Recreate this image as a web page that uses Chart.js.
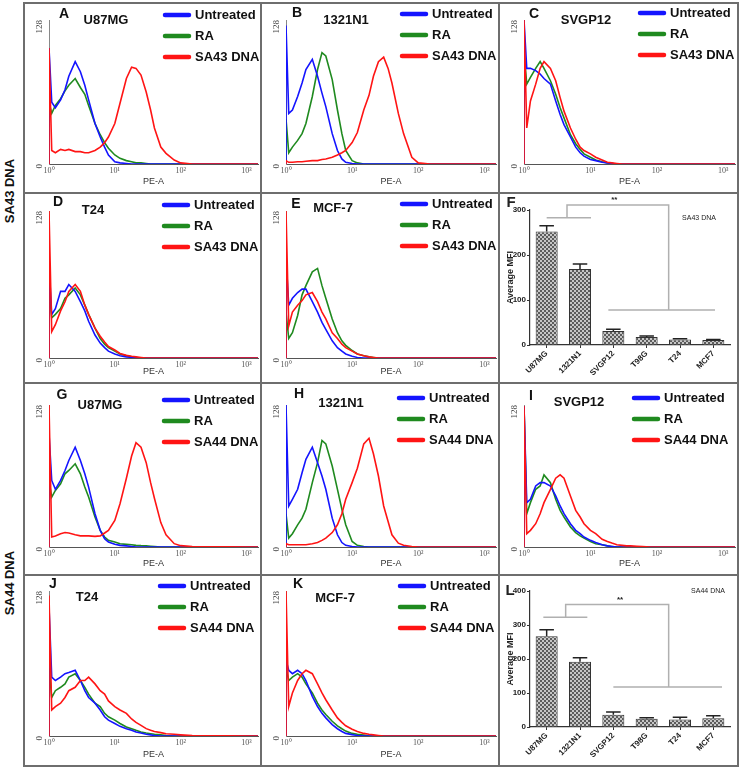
<!DOCTYPE html>
<html>
<head>
<meta charset="utf-8">
<script src="https://cdn.jsdelivr.net/npm/chart.js@4.4.1/dist/chart.umd.min.js"></script>
<style>
body{margin:0;background:#fff;width:740px;height:769px;position:relative;overflow:hidden;font-family:"Liberation Sans",Arial,sans-serif}
.cell{position:absolute}
.cell canvas{display:block}
.rule{position:absolute;background:#6e6e6e}
.side{position:absolute;width:100px;text-align:center;font-weight:bold;font-size:13px;line-height:16px;transform:rotate(-90deg);white-space:nowrap;color:#111}
</style>
</head>
<body>
<div class="side" style="left:-40px;top:183px">SA43 DNA</div>
<div class="side" style="left:-40px;top:575px">SA44 DNA</div>
<script>
// shared fluorescence positions (PE-A) for every histogram, first point is the baseline of the spike at 10^0
const X = [1, 1, 1.1, 1.25, 1.5, 1.75, 2, 2.5, 3, 3.5, 4, 5, 6, 7, 8, 10, 12, 15, 18, 21, 25, 30, 35, 40, 50, 60, 80, 100, 150, 1500];
const xTicks = [1, 10, 100, 1000];
const xTickLabels = ['10\u2070', '10\u00b9', '10\u00b2', '10\u00b3'];
const yTicks = [0, 128];
const names43 = ['Untreated', 'RA', 'SA43 DNA'];
const names44 = ['Untreated', 'RA', 'SA44 DNA'];

// SA43 DNA row
const aUntreated = [0,103,55,50,57,66,78,91,82,70,57,36,24,15,8,2,1,0.5,0,0,0,0,0,0,0,0,0,0,0,0];
const aRA        = [0,55,45,52,58,65,70,76,68,62,52,36,26,19,14,8,5,3,2,1,1,0.5,0,0,0,0,0,0,0,0];
const aSA43      = [0,103,12,10,13,12,13,11,11,10,10,12,15,19,24,36,54,76,86,85,79,64,48,32,15,9.5,3.5,1,0,0];
const bUntreated = [0,123,45,48,60,72,84,93,78,63,51,27,12,4.5,1.5,0.5,0,0,0,0,0,0,0,0,0,0,0,0,0,0];
const bRA        = [0,40,10,15,21,27,36,60,84,99,96,75,48,27,12,3,1,0,0,0,0,0,0,0,0,0,0,0,0,0];
const bSA43      = [0,3,1.5,1.5,2,2,2.5,3,3,4,4.5,6,8,10,12,19,28,48,61,78,91,95,85,72,45,27,6,1,0,0];
const cUntreated = [0,128,85,85,83,80,76,71,56,44,35,24,15,10,7,4,3,1.5,1,0.5,0,0,0,0,0,0,0,0,0,0];
const cRA        = [0,100,71,77,85,91,85,74,62,50,41,26,18,13,9,6,3.5,2,1,0.5,0,0,0,0,0,0,0,0,0,0];
const cSA43      = [0,128,32,56,71,85,91,85,74,59,47,32,22,15,12,9,6,3.5,1.5,1,0.5,0,0,0,0,0,0,0,0,0];
const dUntreated = [0,81,38,43,58,58,64,58,49,41,32,20,13,9,6,3.5,2,1,0.5,0,0,0,0,0,0,0,0,0,0,0];
const dRA        = [0,60,35,38,43,52,55,61,55,46,38,26,17,12,9,6,3.5,2,1,0.5,0,0,0,0,0,0,0,0,0,0];
const dSA43      = [0,128,23,29,41,49,58,64,58,46,38,26,19,14,10,7,4,2.3,1.5,1,0.5,0,0,0,0,0,0,0,0,0];
const eUntreated = [0,87,46,52,57,60,60,49,40,31,25,15,9,6,3.5,1.5,0.5,0,0,0,0,0,0,0,0,0,0,0,0,0];
const eRA        = [0,40,17,22,37,55,63,75,78,63,52,34,22,15,11,6.5,3.5,2,1,0.5,0,0,0,0,0,0,0,0,0,0];
const eSA43      = [0,128,28,40,46,50,55,57,49,40,34,22,17,12,9,6,3.5,2,1,0.5,0,0,0,0,0,0,0,0,0,0];

// SA44 DNA row
const gUntreated = [0,102,60,52,60,69,78,90,78,66,54,30,15,7.5,4.5,2.4,1.5,1,0.5,0,0,0,0,0,0,0,0,0,0,0];
const gRA        = [0,60,45,51,57,66,69,75,66,54,45,27,15,9,6,4.5,3,2.4,2,1.5,1.2,1,0.7,0.5,0,0,0,0,0,0];
const gSA44      = [0,128,9,10,12,13,12.6,11,10,10,10,9.6,10,12.6,15,24,39,62,82,94,90,76,58,44,22,11,3,1.2,0.5,0];
const hUntreated = [0,128,37,43,52,67,79,90,76,64,52,26,11,4,1.5,0.5,0,0,0,0,0,0,0,0,0,0,0,0,0,0];
const hRA        = [0,30,8,12,20,26,34,58,76,96,93,73,52,34,20,5,1.5,0.5,0,0,0,0,0,0,0,0,0,0,0,0];
const hSA44      = [0,3,2,2,2,2,2,3,4,6,8,13,20,30,43,58,71,93,98,84,64,37,23,11,3.5,1.5,0.5,0,0,0];
const iUntreated = [0,127,40,43,55,58,58,55,46,37,30,21,15,12,9,6,4,2,1,0.5,0,0,0,0,0,0,0,0,0,0];
const iRA        = [0,127,30,40,52,55,65,58,43,33,27,18,13,10,8,5,3,2,1,0.5,0,0,0,0,0,0,0,0,0,0];
const iSA44      = [0,127,12,15,21,30,40,52,62,65,62,46,33,27,21,15,12,7,5,3.5,2,1.5,1,1,0.7,0.5,0,0,0,0];
const jUntreated = [0,114,52,49,52,55,56,58,49,40,34,29,23,17,14,11,8.5,6.5,5,3.5,2.6,1.5,1,0.5,0,0,0,0,0,0];
const jRA        = [0,60,34,40,43,46,52,55,49,43,37,29,26,20,17,14,11,8,6.5,5,3.5,2.6,2,1.5,1,0.5,0,0,0,0];
const jSA44      = [0,124,23,26,29,34,40,43,49,49,52,46,40,37,31,26,23,20,15,12,9.4,6.5,5,4,3,2,1.5,1,0.3,0];
const kUntreated = [0,67,58,55,58,55,49,35,26,20,16,10,6.4,4,2.3,1.2,0.5,0,0,0,0,0,0,0,0,0,0,0,0,0];
const kRA        = [0,60,49,52,55,52,46,38,29,23,19,13,9,6.4,4.3,2.3,1.5,0.8,0,0,0,0,0,0,0,0,0,0,0,0];
const kSA44      = [0,128,26,38,49,55,58,55,46,38,32,23,16,12,9,6,4,2.3,1.5,1,0.5,0,0,0,0,0,0,0,0,0];

// average MFI bar panels
const cellLines = ['U87MG', '1321N1', 'SVGP12', 'T98G', 'T24', 'MCF7'];
const mfi43 = [252, 169, 31, 18, 12, 11];
const err43 = [13, 11, 4, 2, 2, 1];
const mfi44 = [267, 192, 36, 24, 22, 26];
const err44 = [19, 12, 8, 3, 7, 7];

const colsX = [24, 261, 499, 738];
const rowsY = [3, 193, 383, 575, 766];
const rowPlot = [[17, 161], [18, 165], [22, 164], [16, 161]]; // chart area top / bottom inside each row
const colors = ['#1414ff', '#1f8a1f', '#ff1414'];
const bold = '"Liberation Sans", Arial, sans-serif';

function makeCell(col, row) {
    const w = colsX[col + 1] - colsX[col], h = rowsY[row + 1] - rowsY[row];
    const div = document.createElement('div');
    div.className = 'cell';
    div.style.left = colsX[col] + 'px';
    div.style.top = rowsY[row] + 'px';
    const cv = document.createElement('canvas');
    cv.width = w; cv.height = h;
    div.appendChild(cv);
    document.body.appendChild(div);
    return {cv, w, h};
}

// letter, cell name and legend written on top of each histogram
function panelText(p) {
    return {
        id: 'panelText',
        afterDraw(chart) {
            const ctx = chart.ctx;
            ctx.save();
            ctx.fillStyle = '#111';
            ctx.textBaseline = 'middle';
            ctx.textAlign = 'center';
            ctx.font = 'bold 14px ' + bold;
            ctx.fillText(p.letter, p.lp[0], p.lp[1]);
            ctx.font = 'bold 13px ' + bold;
            ctx.fillText(p.title, p.tp[0], p.tp[1]);
            ctx.textAlign = 'left';
            chart.data.datasets.forEach((ds, i) => {
                const y = p.lg[1] + i * 21;
                ctx.strokeStyle = ds.borderColor;
                ctx.lineWidth = 4.5;
                ctx.lineCap = 'round';
                ctx.beginPath();
                ctx.moveTo(p.lg[0] + 2, y);
                ctx.lineTo(p.lg[0] + 26, y);
                ctx.stroke();
                ctx.fillText(ds.label, p.lg[0] + 32, y);
            });
            ctx.restore();
        }
    };
}

function histogram(p) {
    const {cv, w, h} = makeCell(p.col, p.row);
    const rp = rowPlot[p.row];
    new Chart(cv, {
        type: 'line',
        data: {
            datasets: p.curves.map((vals, i) => ({
                label: p.names[i],
                data: X.map((x, k) => ({x: x, y: vals[k]})),
                borderColor: colors[i],
                borderWidth: 1.6,
                pointRadius: 0,
                tension: 0,
                fill: false,
                order: [1, 2, 0][i]
            }))
        },
        options: {
            responsive: false,
            animation: false,
            layout: {padding: {left: 0, right: 3, top: rp[0], bottom: 0}},
            plugins: {legend: {display: false}, tooltip: {enabled: false}},
            scales: {
                x: {
                    type: 'logarithmic', min: 1, max: 1500,
                    afterBuildTicks: s => { s.ticks = xTicks.map(v => ({value: v})); },
                    afterFit: s => { s.height = h - rp[1]; s.paddingLeft = 0; s.paddingRight = 0; },
                    grid: {display: false, drawTicks: false},
                    border: {display: true, color: '#555', width: 1},
                    ticks: {
                        autoSkip: false, minRotation: 0, maxRotation: 0, padding: 2, color: '#555',
                        font: {family: '"Liberation Serif", serif', size: 8},
                        callback: (v, i) => xTickLabels[i]
                    },
                    title: {display: true, text: 'PE-A', color: '#333', font: {family: bold, size: 9}, padding: {top: 0, bottom: 6}}
                },
                y: {
                    min: 0, max: 128,
                    afterBuildTicks: s => { s.ticks = yTicks.map(v => ({value: v})); },
                    afterFit: s => { s.width = 25; s.paddingTop = 0; s.paddingBottom = 0; },
                    grid: {display: false, drawTicks: false},
                    border: {display: true, color: '#888', width: 1},
                    ticks: {minRotation: 90, maxRotation: 90, padding: 9, color: '#444', font: {family: '"Liberation Serif", serif', size: 9}}
                }
            }
        },
        plugins: [panelText(p)]
    });
}

function hatch() {
    const c = document.createElement('canvas');
    c.width = 4; c.height = 4;
    const g = c.getContext('2d');
    g.fillStyle = '#c6c6c6';
    g.fillRect(0, 0, 4, 4);
    g.fillStyle = '#5c5c5c';
    for (let i = 0; i < 4; i++) {
        g.fillRect(i, i, 1, 1);
        g.fillRect(3 - i, i, 1, 1);
    }
    return g.createPattern(c, 'repeat');
}

// error whiskers, significance brackets and small notes of the bar panels
function barExtras(p) {
    return {
        id: 'barExtras',
        afterDraw(chart) {
            const ctx = chart.ctx, xs = chart.scales.x, ys = chart.scales.y;
            const px = v => xs.getPixelForValue(v), py = v => ys.getPixelForValue(v);
            const vals = chart.data.datasets[0].data;
            ctx.save();
            ctx.strokeStyle = '#222';
            ctx.lineWidth = 1.5;
            chart.getDatasetMeta(0).data.forEach((bar, i) => {
                const yTop = py(vals[i] + p.errs[i]);
                const half = bar.width * 0.33;
                ctx.beginPath();
                ctx.moveTo(bar.x, bar.y);
                ctx.lineTo(bar.x, yTop);
                ctx.moveTo(bar.x - half, yTop);
                ctx.lineTo(bar.x + half, yTop);
                ctx.stroke();
            });
            const s = p.sig;
            ctx.strokeStyle = '#b0b0b0';
            ctx.lineWidth = 1.5;
            ctx.beginPath();
            ctx.moveTo(px(s.g1[0]), py(s.low)); ctx.lineTo(px(s.g1[1]), py(s.low));
            ctx.moveTo(px(s.mid1), py(s.low)); ctx.lineTo(px(s.mid1), py(s.top));
            ctx.lineTo(px(s.mid2), py(s.top)); ctx.lineTo(px(s.mid2), py(s.base));
            ctx.moveTo(px(s.g2[0]), py(s.base)); ctx.lineTo(px(s.g2[1]), py(s.base));
            ctx.stroke();
            ctx.fillStyle = '#222';
            ctx.textAlign = 'center';
            ctx.textBaseline = 'middle';
            ctx.font = 'bold 8px ' + bold;
            ctx.fillText('**', px(s.star[0]), py(s.star[1]));
            ctx.font = '7px "Liberation Sans Narrow", ' + bold;
            ctx.fillText(p.note, p.np[0], p.np[1]);
            ctx.font = 'bold 15px ' + bold;
            ctx.fillText(p.letter, p.lp[0], p.lp[1]);
            ctx.restore();
        }
    };
}

function barPanel(p) {
    const {cv, w, h} = makeCell(p.col, p.row);
    new Chart(cv, {
        type: 'bar',
        data: {
            labels: cellLines,
            datasets: [{data: p.means, backgroundColor: hatch(), borderColor: '#333', borderWidth: 1,
                barPercentage: 0.66, categoryPercentage: 1}]
        },
        options: {
            responsive: false,
            animation: false,
            layout: {padding: {left: 0, right: 8, top: p.top, bottom: 0}},
            plugins: {legend: {display: false}, tooltip: {enabled: false}},
            scales: {
                x: {
                    afterFit: s => { s.height = h - 152; s.paddingLeft = 0; s.paddingRight = 0; },
                    grid: {display: true, drawOnChartArea: false, offset: false, tickLength: 3, color: '#333'},
                    border: {display: true, color: '#333', width: 1.2},
                    ticks: {minRotation: 45, maxRotation: 45, autoSkip: false, padding: 1, color: '#222',
                        font: {family: bold, size: 8, weight: 'bold'}}
                },
                y: {
                    min: 0, max: p.yMax,
                    afterFit: s => { s.width = 31; s.paddingTop = 0; s.paddingBottom = 0; },
                    grid: {display: true, drawOnChartArea: false, tickLength: 3, color: '#333'},
                    border: {display: true, color: '#333', width: 1.2},
                    ticks: {stepSize: 100, padding: 1, color: '#222', font: {family: bold, size: 8, weight: 'bold'}},
                    title: {display: true, text: 'Average MFI', color: '#222', font: {family: bold, size: 9, weight: 'bold'}, padding: {top: 6, bottom: 0}}
                }
            }
        },
        plugins: [barExtras(p)]
    });
}

const panels = [
    {col: 0, row: 0, letter: 'A', title: 'U87MG',  lp: [40, 11], tp: [82, 17], lg: [139, 12], names: names43, curves: [aUntreated, aRA, aSA43]},
    {col: 1, row: 0, letter: 'B', title: '1321N1', lp: [36, 10], tp: [85, 17], lg: [139, 11], names: names43, curves: [bUntreated, bRA, bSA43]},
    {col: 2, row: 0, letter: 'C', title: 'SVGP12', lp: [35, 11], tp: [87, 17], lg: [139, 10], names: names43, curves: [cUntreated, cRA, cSA43]},
    {col: 0, row: 1, letter: 'D', title: 'T24',    lp: [34, 9],  tp: [69, 17], lg: [138, 12], names: names43, curves: [dUntreated, dRA, dSA43]},
    {col: 1, row: 1, letter: 'E', title: 'MCF-7',  lp: [35, 11], tp: [72, 15], lg: [139, 11], names: names43, curves: [eUntreated, eRA, eSA43]},
    {col: 0, row: 2, letter: 'G', title: 'U87MG',  lp: [38, 12], tp: [76, 22], lg: [138, 17], names: names44, curves: [gUntreated, gRA, gSA44]},
    {col: 1, row: 2, letter: 'H', title: '1321N1', lp: [38, 11], tp: [80, 20], lg: [136, 15], names: names44, curves: [hUntreated, hRA, hSA44]},
    {col: 2, row: 2, letter: 'I', title: 'SVGP12', lp: [32, 13], tp: [80, 19], lg: [133, 15], names: names44, curves: [iUntreated, iRA, iSA44]},
    {col: 0, row: 3, letter: 'J', title: 'T24',    lp: [29, 9],  tp: [63, 22], lg: [134, 11], names: names44, curves: [jUntreated, jRA, jSA44]},
    {col: 1, row: 3, letter: 'K', title: 'MCF-7',  lp: [37, 9],  tp: [74, 23], lg: [137, 11], names: names44, curves: [kUntreated, kRA, kSA44]}
];
panels.forEach(histogram);

barPanel({col: 2, row: 1, letter: 'F', lp: [12, 10], top: 17, yMax: 300, means: mfi43, errs: err43,
    note: 'SA43 DNA', np: [200, 25],
    sig: {g1: [0, 1.33], low: 283, mid1: 0.61, top: 311, mid2: 3.66, base: 78, g2: [1.85, 5.05], star: [2.03, 322]}});
barPanel({col: 2, row: 3, letter: 'L', lp: [11, 16], top: 16, yMax: 400, means: mfi44, errs: err44,
    note: 'SA44 DNA', np: [209, 16],
    sig: {g1: [-0.1, 1.22], low: 323, mid1: 0.57, top: 360, mid2: 3.66, base: 118, g2: [2.0, 5.26], star: [2.2, 373]}});

// panel frame
colsX.forEach(x => {
    const d = document.createElement('div');
    d.className = 'rule';
    d.style.cssText = 'left:' + (x - 1) + 'px;top:' + (rowsY[0] - 1) + 'px;width:2px;height:' + (rowsY[4] - rowsY[0] + 2) + 'px';
    document.body.appendChild(d);
});
rowsY.forEach(y => {
    const d = document.createElement('div');
    d.className = 'rule';
    d.style.cssText = 'left:' + (colsX[0] - 1) + 'px;top:' + (y - 1) + 'px;height:2px;width:' + (colsX[3] - colsX[0] + 2) + 'px';
    document.body.appendChild(d);
});
</script>
</body>
</html>
